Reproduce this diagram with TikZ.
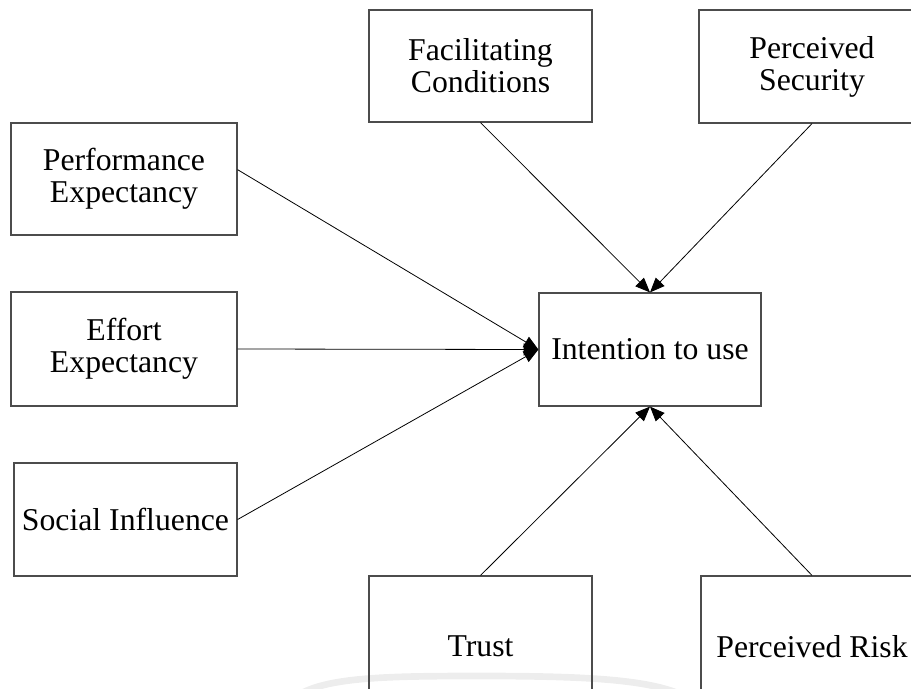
\documentclass[tikz,border=0pt]{standalone}
\usepackage{fontspec}
\setmainfont{Liberation Serif}
\usetikzlibrary{arrows.meta}

\tikzset{
  factor/.style={draw=black!70, line width=0.9pt, rectangle, inner sep=0pt,
    align=center, font=\fontsize{23.8pt}{24pt}\selectfont},
  link/.style={draw=black, line width=0.6pt, -{Triangle[length=11pt,width=9pt]}},
  haze/.style={draw=black!7, line width=5pt, line cap=round}
}

\begin{document}
\begin{tikzpicture}[x=0.75pt, y=-0.75pt]
  \useasboundingbox (0,0) rectangle (911,689);
  \clip (0,0) rectangle (911,689);

  % faint background mark along the lower edge
  \draw[haze] (300,694) .. controls (330,677) and (390,676) .. (480,676)
              .. controls (580,676) and (645,679) .. (680,694);

  % predictors and outcome
  \node[factor, minimum width=167.25pt, minimum height=84pt]    (fc) at (480.5,66)    {Facilitating\\Conditions};
  \node[factor, minimum width=169.5pt,  minimum height=84.75pt] (ps) at (812,66.5)    {Perceived\\Security};
  \node[factor, minimum width=169.5pt,  minimum height=84pt]    (pe) at (124,179)     {Performance\\Expectancy};
  \node[factor, minimum width=169.5pt,  minimum height=85.5pt]  (ee) at (124,349)     {Effort\\Expectancy};
  \node[factor, minimum width=167.25pt, minimum height=84.75pt] (si) at (125.5,519.5) {Social Influence};
  \node[factor, minimum width=166.5pt,  minimum height=84.75pt] (iu) at (650,349.5)   {Intention to use};
  \node[factor, minimum width=167.25pt, minimum height=105.75pt] (tr) at (480.5,646.5) {Trust};
  \node[factor, minimum width=166.5pt,  minimum height=105.75pt] (pr) at (812,646.5)  {Perceived Risk};

  % connectors
  \draw[link] ([yshift=7pt]pe.east) -- (iu.west);
  \draw[link] (ee.east) -- (iu.west);
  \draw[link] (si.east) -- (iu.west);
  \draw[link] (fc.south) -- (iu.north);
  \draw[link] (ps.south) -- (iu.north);
  \draw[link] (tr.north) -- (iu.south);
  \draw[link] (pr.north) -- (iu.south);
\end{tikzpicture}
\end{document}
